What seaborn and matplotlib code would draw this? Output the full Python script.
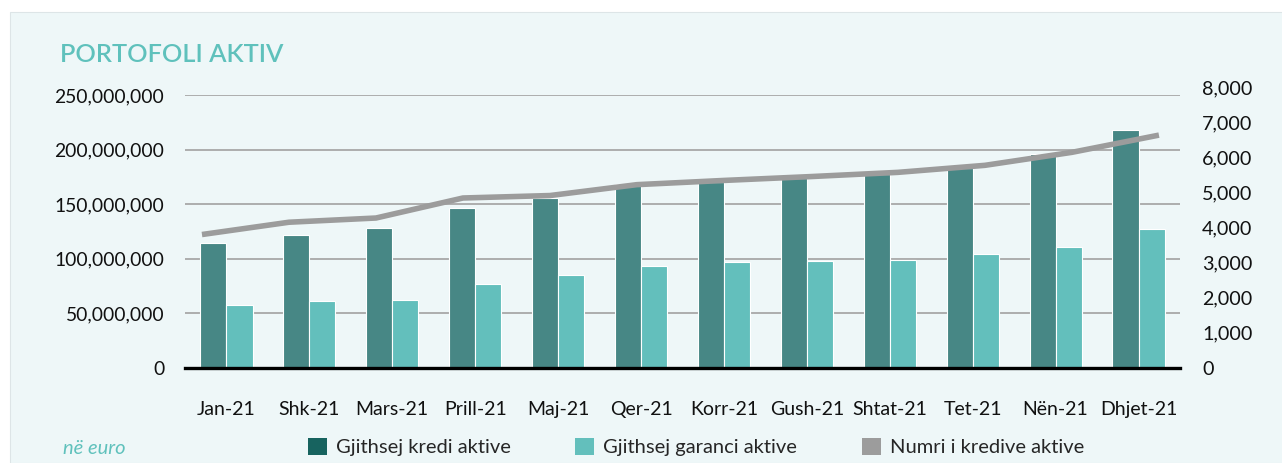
import numpy as np
import pandas as pd
import matplotlib
matplotlib.use("Agg")
import matplotlib.pyplot as plt
from matplotlib.patches import Rectangle, Patch
from matplotlib.ticker import FuncFormatter, MultipleLocator
import seaborn as sns

months = ["Jan-21", "Shk-21", "Mars-21", "Prill-21", "Maj-21", "Qer-21",
          "Korr-21", "Gush-21", "Shtat-21", "Tet-21", "Nën-21", "Dhjet-21"]
kredi = [114.5e6, 121.8e6, 128.0e6, 146.5e6, 155.7e6, 168.5e6,
         170.6e6, 174.3e6, 177.4e6, 183.4e6, 196.0e6, 218.0e6]
garanci = [57.7e6, 61.4e6, 62.3e6, 77.0e6, 85.0e6, 93.4e6,
           97.0e6, 98.0e6, 98.9e6, 104.4e6, 110.8e6, 127.3e6]
numri = [3800, 4150, 4270, 4840, 4910, 5220,
         5340, 5450, 5570, 5770, 6140, 6630]

s_kredi = "Gjithsej kredi aktive"
s_gar = "Gjithsej garanci aktive"
s_num = "Numri i kredive aktive"

BG = "#EEF7F8"
C_DARK_BAR = "#478785"
C_DARK_LEG = "#17635F"
C_LIGHT = "#63BFBC"
C_GREY = "#9C9C9C"
C_TITLE = "#5FC1BC"

sns.set_theme(style="white")
plt.rcParams["font.family"] = ["Lato", "DejaVu Sans"]

fig = plt.figure(figsize=(12.82, 4.63), dpi=100, facecolor="white")
panel = Rectangle((10 / 1282, 0), 1.0, (463 - 12) / 463,
                  transform=fig.transFigure, facecolor=BG,
                  edgecolor="#DDE5E7", linewidth=0.8, zorder=-10)
fig.patches.append(panel)

# primary axes: bars (0 at y=368px, 250M at y=95px)
L, R, B, T = 185 / 1282, 1180 / 1282, 1 - 368 / 463, 1 - 95 / 463
ax = fig.add_axes([L, B, R - L, T - B])
ax.set_facecolor("none")

df = pd.DataFrame({
    "month": months * 2,
    "value": kredi + garanci,
    "series": [s_kredi] * len(months) + [s_gar] * len(months),
})
sns.barplot(data=df, x="month", y="value", hue="series",
            palette={s_kredi: C_DARK_BAR, s_gar: C_LIGHT}, saturation=1,
            width=0.63, edgecolor="white", linewidth=0.8,
            ax=ax, legend=False, zorder=2)

ax.set_ylim(0, 250e6)
ax.set_xlim(-0.5, len(months) - 0.5)
ax.yaxis.set_major_locator(MultipleLocator(50e6))
ax.yaxis.set_major_formatter(FuncFormatter(lambda v, p: f"{int(v):,}"))
ax.set_axisbelow(True)
ax.grid(axis="y", color="#A8A8A8", linewidth=1.3)
ax.grid(axis="x", visible=False)
for s in ["top", "right", "left"]:
    ax.spines[s].set_visible(False)
ax.spines["bottom"].set_color("black")
ax.spines["bottom"].set_linewidth(2.4)
ax.spines["bottom"].set_zorder(5)
ax.set_xlabel("")
ax.set_ylabel("")
ax.tick_params(axis="y", length=0, pad=15, labelsize=13.9, labelcolor="#111111")
ax.tick_params(axis="x", length=0, pad=24, labelsize=14, labelcolor="#111111")

# secondary axes: count line (0 at y=368px, 8000 at y=87px, like the reference)
T2 = 1 - 87 / 463
ax2 = fig.add_axes([L, B, R - L, T2 - B])
ax2.patch.set_visible(False)
sns.lineplot(x=np.arange(len(months)), y=numri, ax=ax2, color=C_GREY,
             linewidth=4.0, solid_capstyle="butt")
ax2.set_ylim(0, 8000)
ax2.set_xlim(-0.195, 11.242)
ax2.set_xticks([])
ax2.yaxis.tick_right()
ax2.yaxis.set_major_locator(MultipleLocator(1000))
ax2.yaxis.set_major_formatter(FuncFormatter(lambda v, p: f"{int(v):,}"))
ax2.tick_params(axis="y", length=0, pad=16, labelsize=14.2, labelcolor="#111111")
ax2.set_xlabel("")
ax2.set_ylabel("")
ax2.grid(False)
for s in ax2.spines.values():
    s.set_visible(False)

fig.text(60 / 1282, 1 - 55 / 463, "PORTOFOLI AKTIV", color=C_TITLE,
         fontsize=18.3, fontweight="semibold", ha="left", va="center")
fig.text(63 / 1282, 1 - 448 / 463, "në euro", color=C_TITLE, fontsize=14.5,
         style="italic", ha="left", va="center")

handles = [Patch(facecolor=C_DARK_LEG, edgecolor="none", label=s_kredi),
           Patch(facecolor=C_LIGHT, edgecolor="none", label=s_gar),
           Patch(facecolor=C_GREY, edgecolor="none", label=s_num)]
fig.legend(handles=handles, loc="center", bbox_to_anchor=(696 / 1282, 1 - 447 / 463),
           ncol=3, frameon=False, fontsize=14.5, handlelength=0.95,
           handleheight=0.95, handletextpad=0.45, columnspacing=3.2,
           borderpad=0, borderaxespad=0)

fig.savefig("out.png", dpi=100, facecolor="white")
